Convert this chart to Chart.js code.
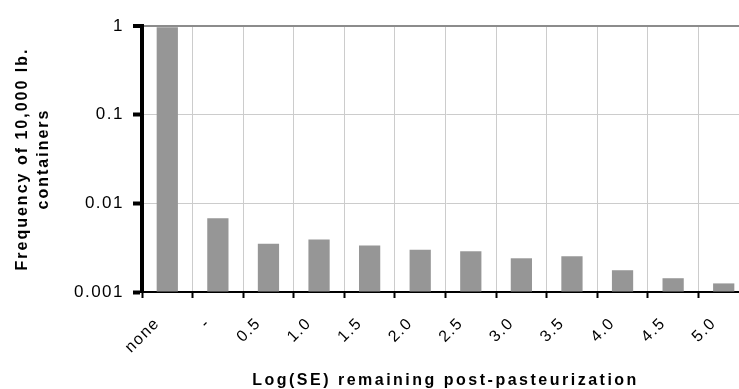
<!DOCTYPE html>
<html>
<head>
<meta charset="utf-8">
<script src="https://cdn.jsdelivr.net/npm/chart.js@4"></script>
<style>
  html, body { margin: 0; padding: 0; background: #fff; overflow: hidden; }
  #wrap { width: 739px; height: 389px; overflow: hidden; }
  canvas { display: block; }
</style>
</head>
<body>
<div id="wrap">
  <canvas id="freqChart" width="760" height="389"></canvas>
</div>
<script>
// log reduction classes on the x axis
const categories = ['none', '-', '0.5', '1.0', '1.5', '2.0', '2.5', '3.0', '3.5', '4.0', '4.5', '5.0'];
// fraction of 10,000 lb containers in each class
const frequency = [0.97, 0.0068, 0.0035, 0.0039, 0.00335, 0.003, 0.00288, 0.0024, 0.00253, 0.00176, 0.00143, 0.00125];
// decade ticks on the log axis
const yTickValues = [0.001, 0.01, 0.1, 1];
const yTickLabels = ['0.001', '0.01', '0.1', '1'];

const yTitle = ['Frequency of 10,000 lb.', 'containers'];
const xTitle = 'Log(SE) remaining post-pasteurization';

const FONT = '"Liberation Sans", Arial, sans-serif';

// canvas letterSpacing gets wiped whenever the canvas is resized, so set it before each draw
const spacing = {
  id: 'spacing',
  beforeDraw(chart) {
    chart.ctx.letterSpacing = '1.5px';
  }
};

// axis titles drawn by hand so they sit where the page layout wants them
const titles = {
  id: 'titles',
  afterDraw(chart) {
    const ctx = chart.ctx;
    const area = chart.chartArea;
    ctx.save();
    ctx.fillStyle = '#000';
    ctx.font = 'bold 16px ' + FONT;
    ctx.textAlign = 'center';
    ctx.textBaseline = 'middle';

    // x title, centred under the plot
    ctx.letterSpacing = '2.5px';
    ctx.fillText(xTitle, (area.left + area.right) / 2, 381);

    // y title, two rotated lines
    ctx.letterSpacing = '2px';
    const midY = (area.top + area.bottom) / 2;
    ctx.translate(23, midY);
    ctx.rotate(-Math.PI / 2);
    ctx.fillText(yTitle[0], 0, 0);
    ctx.fillText(yTitle[1], 0, 21);
    ctx.restore();
  }
};

const ctx = document.getElementById('freqChart').getContext('2d');

new Chart(ctx, {
  type: 'bar',
  data: {
    labels: categories,
    datasets: [{
      data: frequency,
      backgroundColor: '#969696',
      borderWidth: 0,
      barPercentage: 0.42,
      categoryPercentage: 1.0,
      base: 0.001
    }]
  },
  options: {
    responsive: false,
    animation: false,
    devicePixelRatio: 1,
    layout: {
      padding: { top: 26, right: 11, left: 0, bottom: 0 }
    },
    plugins: {
      legend: { display: false },
      tooltip: { enabled: false }
    },
    scales: {
      x: {
        grid: {
          offset: true,
          color: '#cccccc',
          lineWidth: 1,
          tickColor: '#000',
          tickWidth: 2,
          tickLength: 6
        },
        border: { color: '#000', width: 2 },
        ticks: {
          color: '#000',
          font: { family: FONT, size: 16 },
          minRotation: 45,
          maxRotation: 45,
          labelOffset: -10,
          padding: 16,
          autoSkip: false
        },
        afterFit(scale) {
          scale.height = 97;
        }
      },
      y: {
        type: 'logarithmic',
        min: 0.001,
        max: 1,
        afterBuildTicks(scale) {
          scale.ticks = yTickValues.map(v => ({ value: v }));
        },
        grid: {
          color: (c) => (c.tick && c.tick.value === 1 ? '#8c8c8c' : '#cccccc'),
          lineWidth: (c) => (c.tick && c.tick.value === 1 ? 2 : 1),
          tickColor: '#000',
          tickWidth: 4,
          tickLength: 9
        },
        border: { color: '#000', width: 4 },
        ticks: {
          color: '#000',
          font: { family: FONT, size: 17 },
          padding: 9,
          callback: (value) => {
            const i = yTickValues.indexOf(value);
            return i >= 0 ? yTickLabels[i] : '';
          }
        },
        afterFit(scale) {
          scale.width = 142;
        }
      }
    }
  },
  plugins: [spacing, titles]
});
</script>
</body>
</html>
